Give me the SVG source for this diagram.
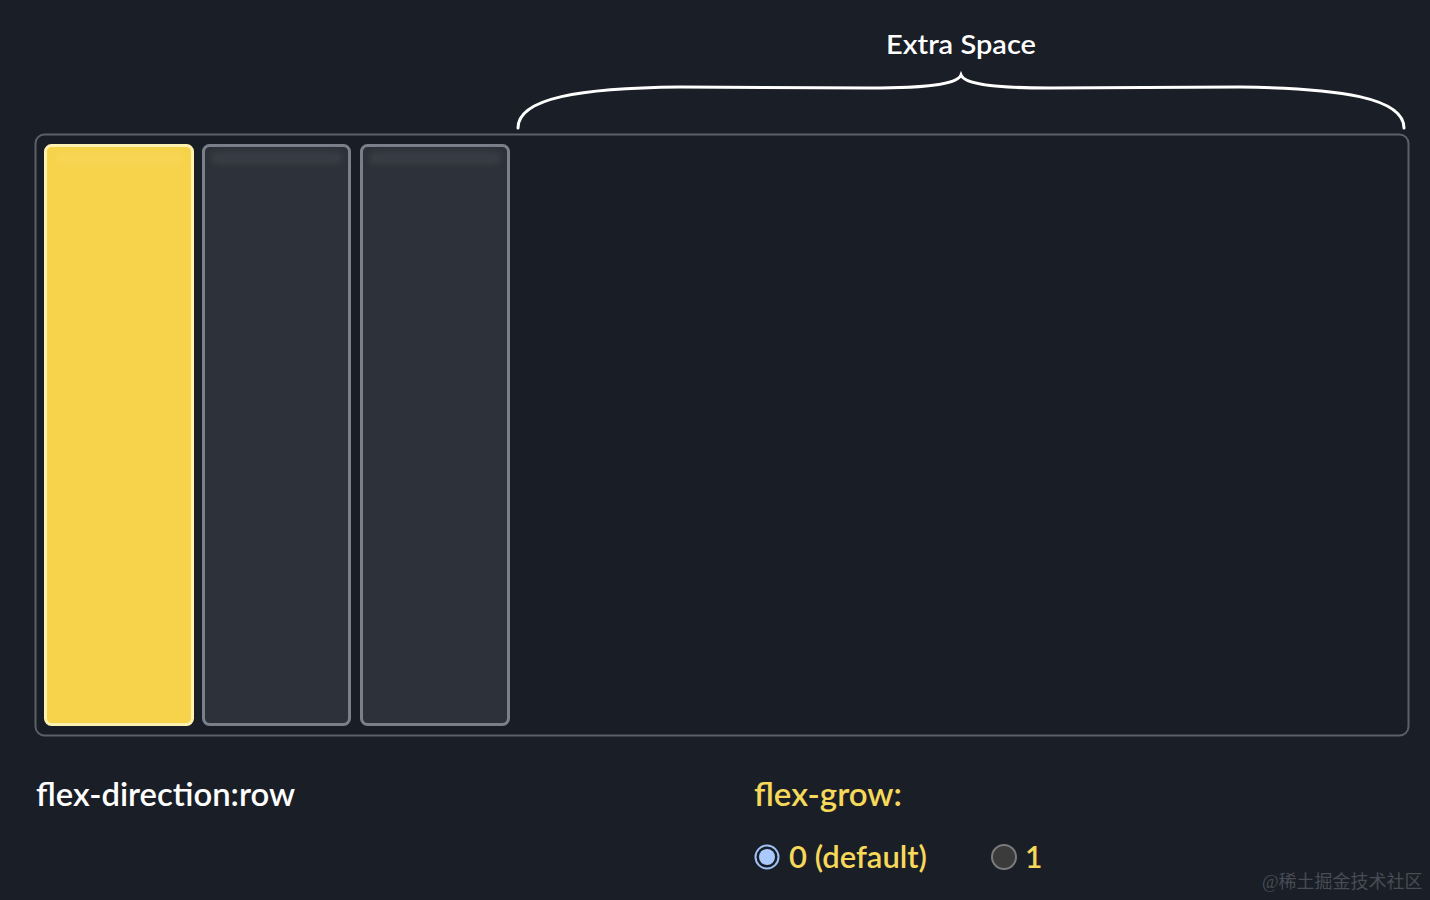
<svg xmlns="http://www.w3.org/2000/svg" width="1430" height="900" viewBox="0 0 1430 900">
<style>
.lbl{font-family:Lato,"Noto Sans",sans-serif;font-weight:600}
.gray{fill:#2d3139;stroke:#7a808a;stroke-width:3}
.hl{fill:#383c45}
</style>
<defs>
<filter id="blur" x="-10%" y="-50%" width="120%" height="200%"><feGaussianBlur stdDeviation="3"/></filter>
</defs>
<rect width="1430" height="900" fill="#1a1e26"/>
<g id="container">
<rect x="35.5" y="134.5" width="1373" height="601" rx="9" fill="#191d25" stroke="#5b616b" stroke-width="2"/>
</g>
<g id="item1">
<rect x="45.5" y="145.5" width="147" height="579" rx="6" fill="#f6d34a" stroke="#fff1b0" stroke-width="3"/>
<rect x="55" y="152" width="128" height="12" rx="6" fill="#f8d655" filter="url(#blur)"/>
</g>
<g id="item2">
<rect class="gray" x="203.5" y="145.5" width="146" height="579" rx="6"/>
<rect class="hl" x="211" y="152" width="132" height="12" rx="6" filter="url(#blur)"/>
</g>
<g id="item3">
<rect class="gray" x="361.5" y="145.5" width="147" height="579" rx="6"/>
<rect class="hl" x="369" y="152" width="132" height="12" rx="6" filter="url(#blur)"/>
</g>
<g id="connectors">
<path d="M518,128 C518,98 580,88 680,87 L870,88 C935,88 958,83 961,75 C964,83 987,88 1050,88 L1240,87 C1340,88 1404,98 1404,128" fill="none" stroke="#ffffff" stroke-width="3" stroke-linecap="round"/>
</g>
<text class="lbl" x="886" y="54" font-size="27" fill="#ffffff" textLength="150" lengthAdjust="spacingAndGlyphs">Extra Space</text>
<text class="lbl" x="36" y="806" font-size="32" fill="#ffffff" textLength="259" lengthAdjust="spacingAndGlyphs">flex-direction:row</text>
<text class="lbl" x="754" y="806" font-size="32" fill="#f6d85a" textLength="148" lengthAdjust="spacingAndGlyphs">flex-grow:</text>
<g id="radio0">
<circle cx="767" cy="857" r="11.5" fill="#1a1e26" stroke="#9ec2f5" stroke-width="2"/>
<circle cx="767" cy="857" r="8" fill="#a9c9ff"/>
</g>
<text class="lbl" x="789" y="868" font-size="30" fill="#f6d85a" textLength="138" lengthAdjust="spacingAndGlyphs">0 (default)</text>
<g id="radio1">
<circle cx="1004" cy="857" r="12" fill="#3b3b3c" stroke="#7b7b7d" stroke-width="2"/>
</g>
<text class="lbl" x="1025" y="868" font-size="30" fill="#f6d85a">1</text>
<text x="1262" y="888" font-size="18" fill="#474c55" font-family="'Liberation Serif','Noto Sans CJK SC',serif">@稀土掘金技术社区</text>
</svg>
